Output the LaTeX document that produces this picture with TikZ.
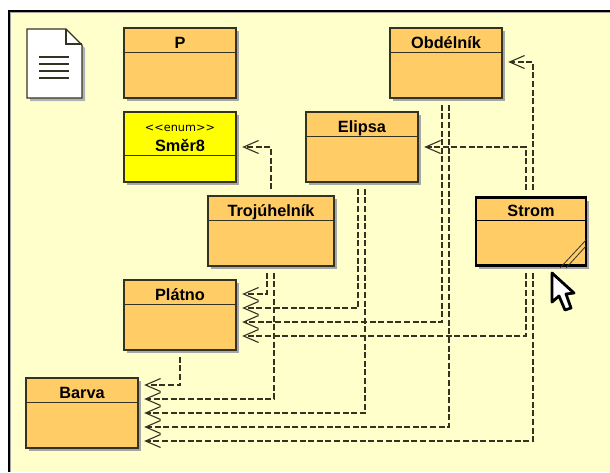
\documentclass[tikz,border=0pt]{standalone}
\usepackage{fontspec}
\setmainfont{DejaVu Sans}
\newfontfamily\titlefont{Liberation Sans}
\usetikzlibrary{arrows.meta,shadows}
\definecolor{cpaper}{RGB}{255,255,204}
\definecolor{cclass}{RGB}{255,204,102}
\definecolor{cenum}{RGB}{255,255,0}
\definecolor{cink}{RGB}{51,51,34}
\tikzset{
  classbox/.style={draw=cink,line width=1.4pt,fill=cclass,inner sep=0pt,
    minimum height=70pt,
    drop shadow={shadow xshift=3pt,shadow yshift=-3pt,fill=black!35,opacity=1}},
  classname/.style={font=\titlefont\fontsize{16.3}{18}\selectfont\bfseries,text=black,inner sep=0pt},
  classline/.style={draw=cink,line width=1.2pt},
  depline/.style={draw=cink,line width=1.15pt,dash pattern=on 6pt off 2.6pt,
    -{Straight Barb[length=15pt,width=13pt,line width=1.1pt]},
    shorten >=5.5pt,shorten <=6pt},
}
\begin{document}
\begin{tikzpicture}[x=1pt,y=-1pt]
    \useasboundingbox (0,0) rectangle (610,472);
    \fill[cpaper] (9,11) rectangle (610,472);
    \draw[black,line width=2pt] (9,472) -- (9,11) -- (610,11);
    \draw[black!35,line width=1pt] (10.5,472) -- (10.5,12.5) -- (610,12.5);
    % note icon
    \fill[black!30] (30,32) -- (69,32) -- (85,48) -- (85,101) -- (30,101) -- cycle;
    \draw[cink,fill=white,line width=1.3pt] (27,29) -- (66,29) -- (82,45) -- (82,98) -- (27,98) -- cycle;
    \draw[cink,line width=1.3pt] (66,29) -- (66,44) -- (82,44);
    \foreach \y in {57,64,71,78} \draw[cink,line width=1.2pt] (39,\y) -- (69,\y);
    % classes
    \foreach \nm/\x/\y/\w/\ttl in {
        p/180/63/112/P,
        obdelnik/446/63/112/Obdélník,
        elipsa/362/147/112/Elipsa,
        trojuhelnik/271/231/126/Trojúhelník,
        platno/180/315/112/Plátno,
        barva/82/413/112/Barva}{
      \node[classbox,minimum width=\w pt] (\nm) at (\x,\y) {};
      \draw[classline] ([yshift=-25pt]\nm.north west) -- ([yshift=-25pt]\nm.north east);
      \node[classname,anchor=base] (\nm name) at ([yshift=-21pt]\nm.north) {\ttl};
    }
    \node[classbox,fill=cenum,minimum width=112pt] (smer) at (180,147) {};
    \draw[classline] ([yshift=-44pt]smer.north west) -- ([yshift=-44pt]smer.north east);
    \node[font=\fontsize{11.3}{13}\selectfont,inner sep=0pt,anchor=base] (smerstereo) at ([yshift=-20pt]smer.north) {<{}<enum>{}>};
    \node[classname,anchor=base] (smername) at ([yshift=-40.5pt]smer.north) {Směr8};
    \node[classbox,draw=black,line width=2.5pt,minimum width=110pt,minimum height=68pt] (strom) at (531,231.5) {};
    \draw[classline,draw=black] ([yshift=-24.5pt]strom.north west) -- ([yshift=-24.5pt]strom.north east);
    \node[classname,anchor=base] (stromname) at ([yshift=-20.5pt]strom.north) {Strom};
    % resize handle
    \draw[cink,line width=0.8pt] ([xshift=-27pt,yshift=-1pt]strom.south east) -- ([xshift=-1pt,yshift=27pt]strom.south east);
    \draw[cink,line width=0.8pt] ([xshift=-21pt,yshift=-1pt]strom.south east) -- ([xshift=-1pt,yshift=21pt]strom.south east);
    % dependencies
    \draw[depline] (trojuhelnik.north) |- (smer.east);
    \draw[depline] ([xshift=2pt]strom.north) |- ([yshift=1pt]obdelnik.east);
    \draw[depline] ([xshift=-5pt]strom.north) |- (elipsa.east);
    \draw[depline] ([xshift=-4pt]obdelnik.south) |- ([yshift=-7pt]platno.east);
    \draw[depline] ([xshift=3pt]obdelnik.south) |- ([yshift=-14pt]barva.east);
    \draw[depline] ([xshift=-4pt]elipsa.south) |- ([yshift=7pt]platno.east);
    \draw[depline] ([xshift=3pt]elipsa.south) |- (barva.east);
    \draw[depline] ([xshift=-4pt]trojuhelnik.south) |- ([yshift=21pt]platno.east);
    \draw[depline] ([xshift=3pt]trojuhelnik.south) |- ([yshift=14pt]barva.east);
    \draw[depline] ([xshift=-5pt]strom.south) |- ([yshift=-21pt]platno.east);
    \draw[depline] ([xshift=2pt]strom.south) |- ([yshift=-28pt]barva.east);
    \draw[depline] (platno.south) |- ([yshift=28pt]barva.east);
    % cursor
    \draw[black,fill=white,line width=2.8pt,line join=round] (552,273) -- (552,302) -- (559,296) -- (565,310) -- (571,308) -- (566,294) -- (574,293) -- cycle;
\end{tikzpicture}
\end{document}
